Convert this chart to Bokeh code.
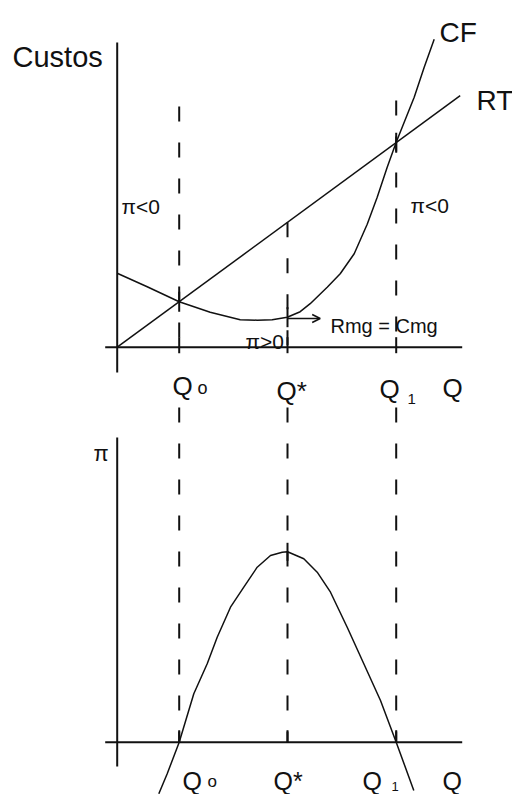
from bokeh.plotting import figure
from bokeh.models import Label, Arrow, OpenHead, Range1d
from bokeh.embed import file_html
from bokeh.resources import INLINE

# ---- data (Q in arbitrary units; costs / profit in arbitrary units) ----
q_names = ["Q0", "Q*", "Q1"]
q_values = [6.2, 17.03, 27.9]

# total revenue (RT), straight line through origin
rt_q = [0.0, 34.3]
rt_values = [0.0, 25.15]

# total cost (CF)
cf_q = [0.0, 3.0, 6.2, 9.3, 12.3, 14.0, 15.5, 17.0, 18.3, 19.3, 21.0, 22.3,
        23.7, 25.0, 26.0, 27.0, 27.9, 29.7, 30.7, 31.7]
cf_values = [7.4, 6.05, 4.55, 3.5, 2.75, 2.7, 2.75, 3.0, 3.55, 4.35, 6.0, 7.35,
             9.35, 12.3, 15.0, 18.0, 20.5, 25.0, 28.0, 30.8]

# profit (pi)
pi_q = [4.16, 5.0, 6.2, 7.66, 9.0, 10.0, 11.33, 12.66, 14.0, 15.33, 16.5, 17.03,
        18.66, 20.0, 21.33, 23.0, 24.66, 26.33, 27.9, 29.66]
pi_values = [-5.16, -3.16, 0.0, 4.84, 7.84, 10.5, 13.5, 15.5, 17.5, 18.67, 19.0,
             19.04, 18.34, 17.0, 15.0, 11.5, 7.84, 4.17, 0.0, -4.83]

# ---- styling / layout ----
FONT = "Liberation Sans"
INK = "#111111"

# one canvas: the cost panel uses the default y range, the profit panel an extra one
p = figure(width=512, height=794, x_range=Range1d(-11.67, 39.53),
           y_range=Range1d(-44.73, 34.67),
           output_backend="svg", toolbar_location=None,
           x_axis_location=None, y_axis_location=None,
           min_border=0, outline_line_color=None)
p.extra_y_ranges = {"profit": Range1d(-5.23, 74.17)}
p.grid.visible = False
p.background_fill_color = "white"
p.border_fill_color = "white"


def lab(x, y, text, size, rng="default"):
    p.add_layout(Label(x=x, y=y, text=text, text_font=FONT, y_range_name=rng,
                       text_font_size=f"{size}px", text_color=INK,
                       text_baseline="alphabetic", text_align="left"))


# ================= top panel: costs =================
p.line([0, 0], [30.47, -2.53], line_color=INK, line_width=2)
p.line([-1.2, 34.5], [0, 0], line_color=INK, line_width=2)

slope = rt_values[1] / rt_q[1]
top_guides = [24.07, slope * q_values[1], 24.67]
p.segment(x0=q_values, y0=top_guides, x1=q_values, y1=[0] * 3,
          line_color=INK, line_width=2, line_dash="15 21")
p.segment(x0=q_values, y0=[1.0] * 3, x1=q_values, y1=[-0.6] * 3,
          line_color=INK, line_width=2)
cross_y = [slope * q_values[0], cf_values[7], slope * q_values[2]]
p.segment(x0=q_values, y0=[v + 1.0 for v in cross_y], x1=q_values,
          y1=[v - 1.0 for v in cross_y], line_color=INK, line_width=2)

p.line(rt_q, rt_values, line_color=INK, line_width=1.5)
p.line(cf_q, cf_values, line_color=INK, line_width=1.5)

p.add_layout(Arrow(end=OpenHead(size=8, line_color=INK, line_width=1.5),
                   x_start=q_values[1], y_start=2.87, x_end=20.3, y_end=2.87,
                   line_color=INK, line_width=1.5))

lab(-10.47, 29.07, "Custos", 29)
lab(32.23, 31.47, "CF", 28)
lab(35.93, 24.67, "RT", 28)
lab(0.43, 14.07, "π<0", 21)
lab(29.33, 14.17, "π<0", 21)
lab(12.83, 0.57, "π>0", 21)
lab(21.33, 2.17, "Rmg = Cmg", 20)
lab(5.53, -3.83, "Q", 26)
lab(8.03, -4.03, "o", 18)
lab(15.93, -4.33, "Q*", 26)
lab(26.23, -4.13, "Q", 26)
lab(29.03, -5.13, "1", 15)
lab(32.53, -4.03, "Q", 26)

# ================= bottom panel: profit =================
P = "profit"
p.line([0, 0], [30.47, -2.43], line_color=INK, line_width=2, y_range_name=P)
p.line([-1.2, 34.5], [0, 0], line_color=INK, line_width=2, y_range_name=P)

p.segment(x0=q_values, y0=[33.47] * 3, x1=q_values, y1=[0] * 3,
          line_color=INK, line_width=2, line_dash="15 21", y_range_name=P)
p.segment(x0=q_values, y0=[1.2] * 3, x1=q_values, y1=[0] * 3,
          line_color=INK, line_width=2, y_range_name=P)
p.segment(x0=[q_values[1]], y0=[pi_values[11] + 0.9], x1=[q_values[1]],
          y1=[pi_values[11] - 0.9], line_color=INK, line_width=2, y_range_name=P)

p.line(pi_q, pi_values, line_color=INK, line_width=1.5, y_range_name=P)

lab(-2.37, 28.87, "π", 22, P)
lab(6.53, -3.83, "Q", 25, P)
lab(9.03, -3.9, "o", 17, P)
lab(15.63, -3.83, "Q*", 25, P)
lab(24.53, -3.83, "Q", 25, P)
lab(27.43, -4.43, "1", 13, P)
lab(32.53, -3.83, "Q", 25, P)

open("out.html", "w").write(file_html(p, INLINE))
